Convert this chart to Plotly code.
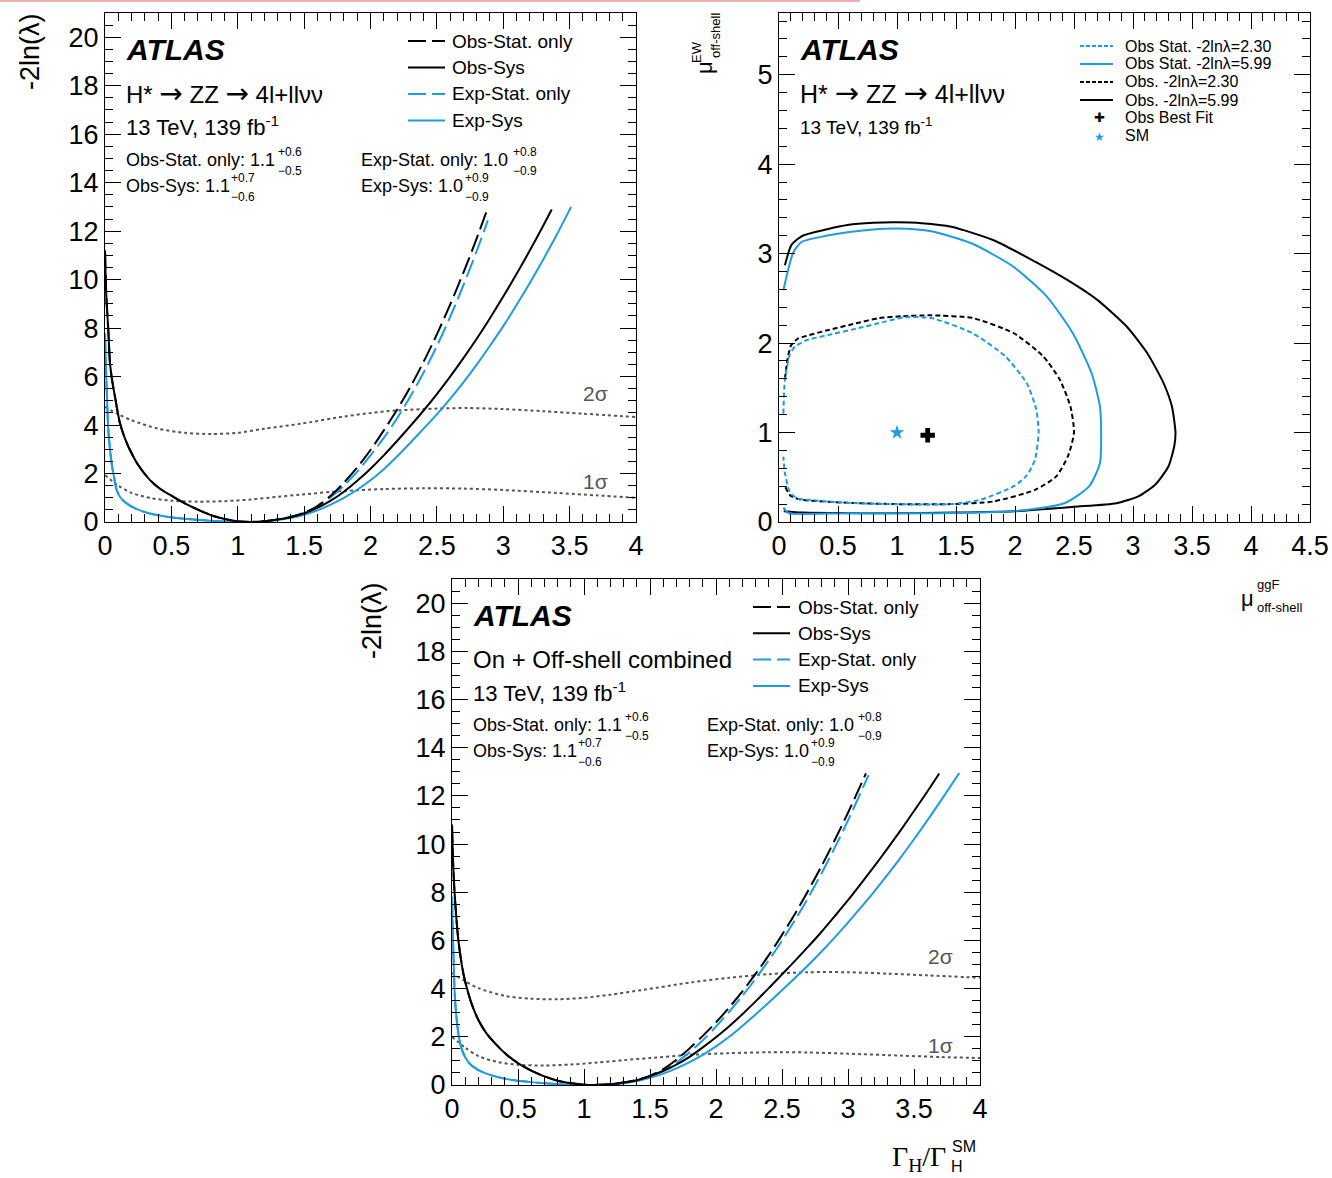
import plotly.graph_objects as go

W, H = 1332, 1178
FONT = "Liberation Sans, Arial, Helvetica, sans-serif"
SERIF = "Liberation Serif, Times New Roman, serif"
BLUE = "#1E9BE2"
GRAY = "#555555"

# ---------------- top-left: H* -> ZZ -> 4l+llvv (off-shell) ----------------
tl_obs_stat_x = [0, 0.01, 0.025, 0.038, 0.055, 0.075, 0.113, 0.15, 0.188, 0.25, 0.339, 0.42, 0.515, 0.62,
                 0.716, 0.8, 0.866, 0.95, 1.017, 1.1, 1.2, 1.3, 1.4, 1.5, 1.6, 1.7, 1.8, 1.9, 2.0, 2.1, 2.2,
                 2.3, 2.4, 2.5, 2.6, 2.7, 2.8, 2.877]
tl_obs_stat_y = [11.2, 9.3, 7.9, 6.54, 5.8, 5.17, 4.07, 3.45, 2.97, 2.35, 1.73, 1.35, 1.04, 0.72,
                 0.47, 0.28, 0.17, 0.07, 0.02, 0.0, 0.03, 0.1, 0.21, 0.38, 0.66, 1.08, 1.62, 2.25, 2.97, 3.78, 4.63,
                 5.57, 6.61, 7.74, 8.97, 10.29, 11.7, 12.86]
tl_obs_sys_x = [0, 0.01, 0.025, 0.038, 0.055, 0.075, 0.113, 0.15, 0.188, 0.25, 0.339, 0.42, 0.515, 0.62,
                0.716, 0.8, 0.866, 0.95, 1.017, 1.1, 1.2, 1.3, 1.4, 1.5, 1.6, 1.7, 1.8, 1.9, 2.0, 2.1, 2.2,
                2.3, 2.4, 2.5, 2.6, 2.7, 2.8, 2.9, 3.0, 3.1, 3.2, 3.3, 3.365]
tl_obs_sys_y = [11.2, 9.3, 7.9, 6.54, 5.8, 5.17, 4.07, 3.45, 2.97, 2.35, 1.73, 1.35, 1.04, 0.72,
                0.47, 0.28, 0.17, 0.07, 0.02, 0.0, 0.03, 0.1, 0.21, 0.36, 0.58, 0.88, 1.25, 1.7, 2.2, 2.75, 3.34,
                3.96, 4.6, 5.28, 6.0, 6.76, 7.56, 8.41, 9.3, 10.23, 11.2, 12.21, 12.89]
tl_exp_stat_x = [0, 0.006, 0.013, 0.025, 0.05, 0.07, 0.088, 0.12, 0.163, 0.22, 0.289, 0.37, 0.464, 0.58,
                 0.716, 0.85, 1.0, 1.1, 1.2, 1.3, 1.4, 1.5, 1.6, 1.7, 1.8, 1.9, 2.0, 2.1, 2.2, 2.3, 2.4,
                 2.5, 2.6, 2.7, 2.8, 2.884]
tl_exp_stat_y = [7.78, 6.6, 5.44, 3.79, 2.42, 1.8, 1.32, 0.98, 0.77, 0.58, 0.43, 0.31, 0.22, 0.14,
                 0.08, 0.03, 0.0, 0.005, 0.03, 0.09, 0.2, 0.36, 0.64, 1.02, 1.5, 2.08, 2.75, 3.47, 4.28, 5.18, 6.17,
                 7.26, 8.46, 9.77, 11.18, 12.45]
tl_exp_sys_x = [0, 0.006, 0.013, 0.025, 0.05, 0.07, 0.088, 0.12, 0.163, 0.22, 0.289, 0.37, 0.464, 0.58,
                0.716, 0.85, 1.0, 1.1, 1.2, 1.3, 1.4, 1.5, 1.6, 1.7, 1.8, 1.9, 2.0, 2.1, 2.2, 2.3, 2.4,
                2.5, 2.6, 2.7, 2.8, 2.9, 3.0, 3.1, 3.2, 3.3, 3.4, 3.511]
tl_exp_sys_y = [7.78, 6.6, 5.44, 3.79, 2.42, 1.8, 1.32, 0.98, 0.77, 0.58, 0.43, 0.31, 0.22, 0.14,
                0.08, 0.03, 0.0, 0.005, 0.025, 0.08, 0.17, 0.3, 0.48, 0.72, 1.0, 1.33, 1.72, 2.18, 2.7, 3.27, 3.85,
                4.44, 5.08, 5.76, 6.49, 7.27, 8.08, 8.95, 9.86, 10.82, 11.82, 13.0]
tl_2sig_x = [0, 0.1, 0.2, 0.4, 0.6, 0.8, 1.0, 1.2, 1.47, 1.8, 2.0, 2.2, 2.5, 2.73, 3.0, 3.3, 3.6, 4.0]
tl_2sig_y = [4.75, 4.45, 4.2, 3.85, 3.68, 3.63, 3.68, 3.85, 4.05, 4.35, 4.5, 4.6, 4.68, 4.7, 4.66, 4.57, 4.47, 4.33]
tl_1sig_x = [0, 0.1, 0.2, 0.35, 0.5, 0.7, 0.9, 1.1, 1.3, 1.47, 1.8, 2.1, 2.4, 2.7, 3.0, 3.4, 3.7, 4.0]
tl_1sig_y = [1.94, 1.5, 1.2, 0.98, 0.88, 0.84, 0.86, 0.93, 1.04, 1.13, 1.28, 1.36, 1.39, 1.38, 1.32, 1.2, 1.1, 1.0]

# ---------------- top-right: 2D contours (mu_ggF, mu_EW) ----------------
tr_obs599_x = [0.05, 0.107, 0.2, 0.4, 0.58, 0.8, 1.0, 1.21, 1.46, 1.82, 2.17, 2.45, 2.7, 2.95, 3.12, 3.26,
               3.33, 3.36, 3.35, 3.3, 3.19, 3.05, 2.86, 2.5, 1.99, 1.5, 0.93, 0.5, 0.2, 0.04]
tr_obs599_y = [2.87, 3.1, 3.2, 3.27, 3.32, 3.345, 3.35, 3.34, 3.3, 3.15, 2.91, 2.7, 2.48, 2.18, 1.89, 1.55,
               1.29, 1.0, 0.85, 0.62, 0.42, 0.29, 0.21, 0.17, 0.12, 0.105, 0.097, 0.1, 0.105, 0.12]
tr_stat599_x = [0.037, 0.12, 0.19, 0.4, 0.58, 0.8, 1.0, 1.29, 1.64, 1.99, 2.27, 2.49, 2.65, 2.72, 2.73,
                2.72, 2.63, 2.42, 1.99, 1.29, 0.58, 0.2, 0.08, 0.037]
tr_stat599_y = [2.59, 3.01, 3.13, 3.2, 3.24, 3.27, 3.28, 3.25, 3.11, 2.85, 2.52, 2.11, 1.66, 1.29, 1.0,
                0.66, 0.4, 0.21, 0.12, 0.097, 0.097, 0.09, 0.1, 0.16]
tr_obs230_x = [0.05, 0.07, 0.1, 0.16, 0.23, 0.4, 0.65, 0.85, 1.04, 1.29, 1.64, 1.99, 2.24, 2.38, 2.47, 2.5,
               2.45, 2.35, 2.17, 1.82, 1.46, 1.0, 0.58, 0.19, 0.1, 0.05]
tr_obs230_y = [1.6, 1.8, 1.97, 2.05, 2.08, 2.14, 2.22, 2.28, 2.3, 2.31, 2.28, 2.11, 1.85, 1.59, 1.29, 1.0,
               0.74, 0.51, 0.36, 0.23, 0.2, 0.2, 0.215, 0.25, 0.29, 0.4]
tr_stat230_x = [0.037, 0.05, 0.093, 0.136, 0.23, 0.45, 0.65, 0.9, 1.07, 1.29, 1.64, 1.92, 2.1, 2.18, 2.2,
                2.17, 2.1, 1.99, 1.71, 1.46, 0.93, 0.5, 0.23, 0.16, 0.093, 0.05, 0.037]
tr_stat230_y = [1.21, 1.59, 1.88, 1.96, 2.03, 2.1, 2.16, 2.24, 2.29, 2.28, 2.11, 1.85, 1.55, 1.26, 1.0,
                0.7, 0.52, 0.4, 0.25, 0.2, 0.2, 0.22, 0.25, 0.26, 0.33, 0.55, 0.73]
tr_bestfit = (1.26, 0.97)
tr_sm = (1.0, 1.0)

# ---------------- bottom: on + off-shell combined ----------------
b_obs_stat_x = [0, 0.01, 0.023, 0.048, 0.086, 0.124, 0.16, 0.2, 0.26, 0.326, 0.41, 0.502, 0.6, 0.705, 0.8,
                0.907, 1.0, 1.06, 1.2, 1.3, 1.4, 1.5, 1.6, 1.7, 1.8, 1.9, 2.0, 2.1, 2.2, 2.3, 2.4, 2.5, 2.6,
                2.7, 2.8, 2.9, 3.0, 3.136]
b_obs_stat_y = [10.8, 9.0, 7.68, 6.02, 4.63, 3.8, 3.2, 2.7, 2.15, 1.73, 1.28, 0.9, 0.6, 0.35, 0.18,
                0.07, 0.015, 0.0, 0.03, 0.1, 0.21, 0.38, 0.66, 1.05, 1.52, 2.04, 2.6, 3.22, 3.89, 4.61, 5.39,
                6.23, 7.12, 8.08, 9.09, 10.17, 11.3, 12.93]
b_obs_sys_x = [0, 0.01, 0.023, 0.048, 0.086, 0.124, 0.16, 0.2, 0.26, 0.326, 0.41, 0.502, 0.6, 0.705, 0.8,
               0.907, 1.0, 1.06, 1.2, 1.3, 1.4, 1.5, 1.6, 1.7, 1.8, 1.9, 2.0, 2.1, 2.2, 2.3, 2.4, 2.5, 2.6,
               2.7, 2.8, 2.9, 3.0, 3.1, 3.2, 3.3, 3.4, 3.5, 3.6, 3.691]
b_obs_sys_y = [10.8, 9.0, 7.68, 6.02, 4.63, 3.8, 3.2, 2.7, 2.15, 1.73, 1.28, 0.9, 0.6, 0.35, 0.18,
               0.07, 0.015, 0.0, 0.03, 0.1, 0.2, 0.37, 0.58, 0.85, 1.17, 1.56, 1.98, 2.44, 2.94, 3.47, 4.02,
               4.59, 5.16, 5.75, 6.36, 7.01, 7.67, 8.37, 9.08, 9.82, 10.58, 11.37, 12.17, 12.93]
b_exp_stat_x = [0, 0.005, 0.01, 0.023, 0.048, 0.07, 0.098, 0.14, 0.2, 0.3, 0.452, 0.58, 0.705, 0.85, 1.0,
                1.1, 1.2, 1.3, 1.4, 1.5, 1.6, 1.7, 1.8, 1.9, 2.0, 2.1, 2.2, 2.3, 2.4, 2.5, 2.6, 2.7, 2.8, 2.9,
                3.0, 3.156]
b_exp_stat_y = [7.81, 6.6, 5.6, 3.53, 2.14, 1.55, 1.17, 0.85, 0.62, 0.4, 0.21, 0.13, 0.07, 0.025, 0.0,
                0.005, 0.025, 0.08, 0.19, 0.36, 0.6, 0.93, 1.36, 1.86, 2.42, 3.04, 3.7, 4.41, 5.18, 5.99, 6.86,
                7.79, 8.79, 9.85, 10.98, 12.86]
b_exp_sys_x = [0, 0.005, 0.01, 0.023, 0.048, 0.07, 0.098, 0.14, 0.2, 0.3, 0.452, 0.58, 0.705, 0.85, 1.0,
               1.1, 1.2, 1.3, 1.4, 1.5, 1.6, 1.7, 1.8, 1.9, 2.0, 2.1, 2.2, 2.3, 2.4, 2.5, 2.6, 2.7, 2.8, 2.9,
               3.0, 3.1, 3.2, 3.3, 3.4, 3.5, 3.6, 3.7, 3.843]
b_exp_sys_y = [7.81, 6.6, 5.6, 3.53, 2.14, 1.55, 1.17, 0.85, 0.62, 0.4, 0.21, 0.13, 0.07, 0.025, 0.0,
               0.005, 0.02, 0.07, 0.16, 0.3, 0.47, 0.69, 0.95, 1.25, 1.6, 2.0, 2.45, 2.93, 3.42, 3.93, 4.45,
               4.98, 5.54, 6.13, 6.74, 7.38, 8.04, 8.73, 9.45, 10.2, 10.97, 11.77, 12.95]
b_2sig_x = [0, 0.1, 0.2, 0.4, 0.6, 0.8, 1.0, 1.2, 1.45, 1.8, 2.1, 2.4, 2.7, 3.0, 3.3, 3.6, 4.0]
b_2sig_y = [4.65, 4.3, 4.02, 3.7, 3.58, 3.56, 3.62, 3.75, 3.95, 4.25, 4.45, 4.6, 4.68, 4.68, 4.62, 4.55, 4.45]
b_1sig_x = [0, 0.1, 0.2, 0.35, 0.5, 0.7, 0.9, 1.1, 1.3, 1.5, 1.8, 2.1, 2.4, 2.7, 3.0, 3.4, 3.7, 4.0]
b_1sig_y = [2.0, 1.55, 1.2, 0.95, 0.84, 0.81, 0.85, 0.93, 1.03, 1.12, 1.25, 1.32, 1.36, 1.35, 1.3, 1.22, 1.16, 1.12]

LONGDASH = "18px,6px"
SHORTDASH = "5px,3px"

fig = go.Figure()


def curve(x, y, color, dash, xa, ya, width=2, smoothing=0.8):
    fig.add_trace(go.Scatter(x=x, y=y, mode="lines", xaxis=xa, yaxis=ya, showlegend=False, hoverinfo="skip",
                             line=dict(color=color, dash=dash, width=width, shape="spline", smoothing=smoothing)))


for xa, ya, sets in [
    ("x", "y", [(tl_2sig_x, tl_2sig_y), (tl_1sig_x, tl_1sig_y)]),
    ("x3", "y3", [(b_2sig_x, b_2sig_y), (b_1sig_x, b_1sig_y)]),
]:
    for sx, sy in sets:
        curve(sx, sy, GRAY, "3px,3px", xa, ya, width=2)

for xa, ya, d in [("x", "y", [(tl_exp_sys_x, tl_exp_sys_y, BLUE, "solid"),
                              (tl_exp_stat_x, tl_exp_stat_y, BLUE, LONGDASH),
                              (tl_obs_sys_x, tl_obs_sys_y, "black", "solid"),
                              (tl_obs_stat_x, tl_obs_stat_y, "black", LONGDASH)]),
                  ("x3", "y3", [(b_exp_sys_x, b_exp_sys_y, BLUE, "solid"),
                                (b_exp_stat_x, b_exp_stat_y, BLUE, LONGDASH),
                                (b_obs_sys_x, b_obs_sys_y, "black", "solid"),
                                (b_obs_stat_x, b_obs_stat_y, "black", LONGDASH)])]:
    for cx, cy, col, dash in d:
        curve(cx, cy, col, dash, xa, ya)

curve(tr_obs599_x, tr_obs599_y, "black", "solid", "x2", "y2", smoothing=0.6)
curve(tr_stat599_x, tr_stat599_y, BLUE, "solid", "x2", "y2", smoothing=0.6)
curve(tr_obs230_x, tr_obs230_y, "black", SHORTDASH, "x2", "y2", smoothing=0.6)
curve(tr_stat230_x, tr_stat230_y, BLUE, SHORTDASH, "x2", "y2", smoothing=0.6)
fig.add_trace(go.Scatter(x=[tr_sm[0]], y=[tr_sm[1]], mode="markers", xaxis="x2", yaxis="y2", showlegend=False,
                         marker=dict(symbol="star", size=11, color=BLUE)))
fig.add_trace(go.Scatter(x=[tr_bestfit[0]], y=[tr_bestfit[1]], mode="markers", xaxis="x2", yaxis="y2",
                         showlegend=False, marker=dict(symbol="cross", size=12, color="black")))


def X(px):
    return px / W


def Y(py):
    return 1 - py / H


def axis(dom, rng, dtick, minor):
    return dict(domain=dom, range=rng, dtick=dtick, tick0=0, ticks="inside", ticklen=16, tickwidth=1,
                tickcolor="black", showline=True, linecolor="black", linewidth=1, mirror="allticks",
                showgrid=False, zeroline=False, automargin=False,
                tickfont=dict(family=FONT, size=27, color="black"),
                minor=dict(dtick=minor, tick0=0, ticks="inside", ticklen=8, tickwidth=1, tickcolor="black",
                           showgrid=False))


fig.update_layout(
    width=W, height=H, margin=dict(l=0, r=0, t=0, b=0, autoexpand=False),
    paper_bgcolor="white", plot_bgcolor="white",
    xaxis=dict(**axis([X(105), X(636)], [0, 4], 0.5, 0.1), anchor="y"),
    yaxis=dict(**axis([Y(522), Y(13)], [0, 21], 2, 0.5), anchor="x"),
    xaxis2=dict(**axis([X(779), X(1310)], [0, 4.5], 0.5, 0.1), anchor="y2"),
    yaxis2=dict(**axis([Y(522), Y(13)], [0, 5.69], 1, 0.2), anchor="x2"),
    xaxis3=dict(**axis([X(452), X(980)], [0, 4], 0.5, 0.1), anchor="y3"),
    yaxis3=dict(**axis([Y(1085), Y(579)], [0, 21], 2, 0.5), anchor="x3"),
)

ann = []
shapes = []


def txt(px, py, s, size, xanchor="left", color="black", family=FONT, angle=0, yanchor="middle"):
    ann.append(dict(x=X(px), y=Y(py), xref="paper", yref="paper", text=s, showarrow=False, xanchor=xanchor,
                    yanchor=yanchor, font=dict(size=size, color=color, family=family), textangle=angle,
                    borderpad=0))


def seg(x0, x1, py, color, dash, width=2):
    shapes.append(dict(type="line", xref="paper", yref="paper", x0=X(x0), x1=X(x1), y0=Y(py), y1=Y(py),
                       line=dict(color=color, dash=dash, width=width)))


def proc(size):
    arrow = f"<span style='font-family:DejaVu Sans ExtraLight, DejaVu Sans;font-size:{size + 4}px'>→</span>"
    return f"H* {arrow} ZZ {arrow} 4l+llνν"


# ---- panel texts: top-left
txt(125, 49, "<b><i>ATLAS</i></b>", 30)
txt(125, 93, proc(24), 24)
txt(125, 126, "13 TeV, 139 fb<sup>-1</sup>", 22)
for (x0, y0, lab, sx, sup, sub) in [(125, 160, "Obs-Stat. only: 1.1", 277, "+0.6", "−0.5"),
                                    (125, 186, "Obs-Sys: 1.1", 230, "+0.7", "−0.6"),
                                    (360, 160, "Exp-Stat. only: 1.0", 512, "+0.8", "−0.9"),
                                    (360, 186, "Exp-Sys: 1.0", 464, "+0.9", "−0.9")]:
    txt(x0, y0, lab, 18)
    txt(sx, y0 - 8, sup, 12)
    txt(sx, y0 + 11, sub, 12)
for i, (lab, col, dash) in enumerate([("Obs-Stat. only", "black", LONGDASH), ("Obs-Sys", "black", "solid"),
                                      ("Exp-Stat. only", BLUE, LONGDASH), ("Exp-Sys", BLUE, "solid")]):
    py = 41 + i * 26.5
    seg(408, 445, py, col, dash)
    txt(451, py, lab, 19)
txt(595, 393, "2σ", 21, xanchor="center", color=GRAY)
txt(595, 481, "1σ", 21, xanchor="center", color=GRAY)
txt(30, 52, "-2ln(λ)", 27, xanchor="center", angle=-90)

# ---- panel texts: top-right
txt(799, 49, "<b><i>ATLAS</i></b>", 30)
txt(799, 93, proc(25), 25)
txt(799, 126, "13 TeV, 139 fb<sup>-1</sup>", 19)
for i, (lab, col, dash) in enumerate([("Obs Stat. -2lnλ=2.30", BLUE, "4px,2px"),
                                      ("Obs Stat. -2lnλ=5.99", BLUE, "solid"),
                                      ("Obs. -2lnλ=2.30", "black", "4px,2px"),
                                      ("Obs. -2lnλ=5.99", "black", "solid")]):
    py = 46 + i * 18
    seg(1080, 1113, py, col, dash)
    txt(1124, py, lab, 16)
txt(1099, 118, "✚", 13, xanchor="center", family="DejaVu Sans")
txt(1124, 118, "Obs Best Fit", 16)
txt(1099, 137, "★", 12, xanchor="center", color=BLUE, family="DejaVu Sans")
txt(1124, 136, "SM", 16)
txt(705, 68, "μ", 22, xanchor="center", angle=-90)
txt(697, 52, "EW", 13, xanchor="center", angle=-90)
txt(716, 36, "off-shell", 13, xanchor="center", angle=-90)
txt(1247, 598, "μ", 22, xanchor="center")
txt(1256, 584, "ggF", 13)
txt(1256, 607, "off-shell", 13)

# ---- panel texts: bottom
txt(472, 615, "<b><i>ATLAS</i></b>", 30)
txt(472, 659, "On + Off-shell combined", 24)
txt(472, 692, "13 TeV, 139 fb<sup>-1</sup>", 22)
for (x0, y0, lab, sx, sup, sub) in [(472, 725, "Obs-Stat. only: 1.1", 624, "+0.6", "−0.5"),
                                    (472, 751, "Obs-Sys: 1.1", 577, "+0.7", "−0.6"),
                                    (706, 725, "Exp-Stat. only: 1.0", 857, "+0.8", "−0.9"),
                                    (706, 751, "Exp-Sys: 1.0", 810, "+0.9", "−0.9")]:
    txt(x0, y0, lab, 18)
    txt(sx, y0 - 8, sup, 12)
    txt(sx, y0 + 11, sub, 12)
for i, (lab, col, dash) in enumerate([("Obs-Stat. only", "black", LONGDASH), ("Obs-Sys", "black", "solid"),
                                      ("Exp-Stat. only", BLUE, LONGDASH), ("Exp-Sys", BLUE, "solid")]):
    py = 607 + i * 26.3
    seg(753, 790, py, col, dash)
    txt(797, py, lab, 19)
txt(940, 957, "2σ", 21, xanchor="center", color=GRAY)
txt(940, 1045, "1σ", 21, xanchor="center", color=GRAY)
txt(372, 620, "-2ln(λ)", 27, xanchor="center", angle=-90)
txt(947, 1158, "Γ<sub>H</sub>/Γ", 28, xanchor="right", family=SERIF)
txt(950, 1166, "H", 16)
txt(951, 1146, "SM", 16)

# top red strip
shapes.append(dict(type="rect", xref="paper", yref="paper", x0=0, x1=X(860), y0=Y(2), y1=1,
                   fillcolor="rgba(225,110,110,0.55)", line=dict(width=0), layer="above"))

fig.update_layout(annotations=ann, shapes=shapes)
fig.write_html("out.html")
